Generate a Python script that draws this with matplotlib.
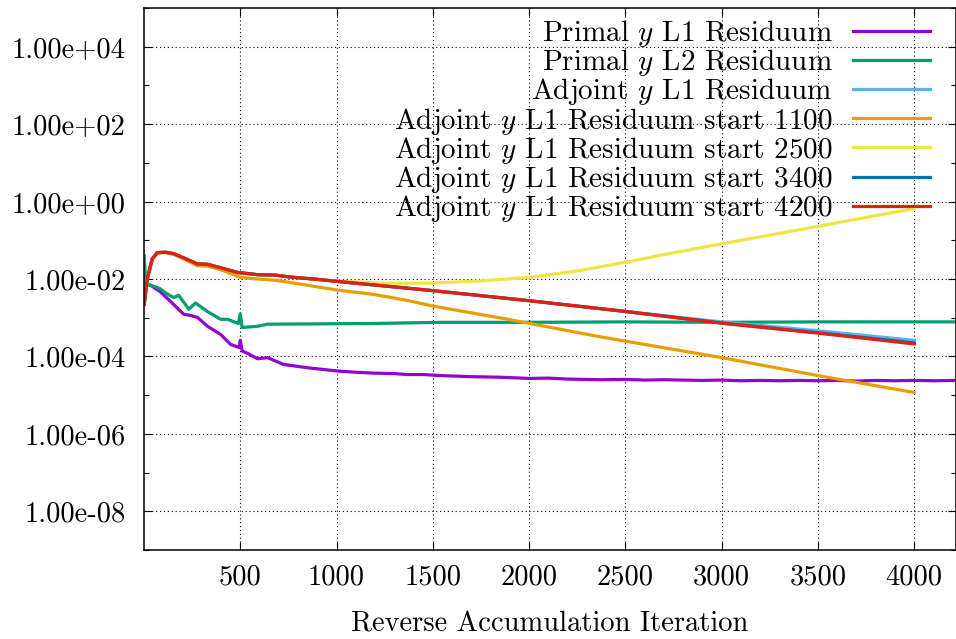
import numpy as np
import matplotlib.pyplot as plt
from matplotlib.ticker import FixedLocator, NullFormatter, NullLocator

plt.rcParams['font.family'] = 'cmr10'
plt.rcParams['mathtext.fontset'] = 'cm'
plt.rcParams['axes.unicode_minus'] = False
plt.rcParams['axes.formatter.use_mathtext'] = True

# primal y L1 residuum
primal_l1_x = [1, 40, 86, 120, 154, 206, 240, 278, 330, 398, 450, 495, 500, 510, 538, 590, 642,
               725, 849, 1005, 1100, 1192, 1300, 1369, 1450, 1540, 1620, 1700, 1850, 2000, 2100,
               2200, 2371, 2500, 2600, 2700, 2800, 2900, 3000, 3100, 3200, 3300, 3400, 3500,
               3600, 3700, 3800, 3900, 4000, 4100, 4219]
primal_l1_y = [8.3e-3, 6.6e-3, 4.6e-3, 3.2e-3, 2.2e-3, 1.23e-3, 1.15e-3, 1.02e-3, 6.0e-4, 3.7e-4,
               2.04e-4, 1.7e-4, 2.6e-4, 1.38e-4, 1.2e-4, 8.7e-5, 9.3e-5, 6.2e-5, 5.1e-5, 4.2e-5,
               3.9e-5, 3.7e-5, 3.6e-5, 3.4e-5, 3.4e-5, 3.2e-5, 3.1e-5, 3.0e-5, 2.9e-5, 2.7e-5,
               2.75e-5, 2.6e-5, 2.5e-5, 2.55e-5, 2.45e-5, 2.5e-5, 2.45e-5, 2.4e-5, 2.45e-5,
               2.35e-5, 2.4e-5, 2.35e-5, 2.4e-5, 2.35e-5, 2.4e-5, 2.3e-5, 2.4e-5, 2.35e-5,
               2.4e-5, 2.35e-5, 2.4e-5]

# primal y L2 residuum
primal_l2_x = [1, 10, 34, 60, 86, 121, 155, 180, 233, 268, 329, 398, 434, 490, 500, 510, 590,
               642, 849, 1200, 1540, 2000, 2500, 3000, 3500, 4000, 4219]
primal_l2_y = [4.0e-2, 7.4e-3, 6.8e-3, 6.3e-3, 5.5e-3, 4.1e-3, 3.3e-3, 3.8e-3, 1.66e-3, 2.4e-3,
               1.45e-3, 9.1e-4, 9.1e-4, 7.1e-4, 1.26e-3, 5.6e-4, 6.0e-4, 6.8e-4, 6.9e-4, 7.1e-4,
               7.6e-4, 7.6e-4, 7.8e-4, 7.6e-4, 7.8e-4, 7.8e-4, 7.8e-4]

# adjoint runs share the same early history
adj_x_early = [1, 17, 43, 69, 112, 155, 207, 277, 330, 398, 485, 590, 680, 761, 900, 1000]
adj_y_early = [2.2e-3, 1.0e-2, 3.3e-2, 4.8e-2, 4.9e-2, 4.5e-2, 3.5e-2, 2.45e-2, 2.4e-2, 1.95e-2,
               1.48e-2, 1.29e-2, 1.26e-2, 1.12e-2, 9.8e-3, 8.7e-3]

adjoint_x = adj_x_early + [1500, 2000, 2500, 3000, 3500, 4000]
adjoint_y = adj_y_early + [5.0e-3, 2.75e-3, 1.45e-3, 7.8e-4, 4.6e-4, 2.6e-4]

start1100_x = [1, 17, 43, 69, 112, 155, 207, 277, 330, 398, 502, 590, 680, 761, 1000, 1192,
               1367, 1500, 1869, 2371, 3000, 3500, 4000]
start1100_y = [2.2e-3, 1.0e-2, 3.3e-2, 4.7e-2, 4.8e-2, 4.3e-2, 3.3e-2, 2.2e-2, 2.15e-2, 1.74e-2,
               1.1e-2, 1.0e-2, 9.3e-3, 8.1e-3, 5.2e-3, 4.0e-3, 2.8e-3, 2.0e-3, 9.5e-4, 3.2e-4,
               9.3e-5, 3.2e-5, 1.17e-5]

start2500_x = adj_x_early[:-1] + [1000, 1228, 1488, 1748, 2002, 2267, 2500, 2682, 3000, 3500, 4000]
start2500_y = adj_y_early[:-1] + [8.9e-3, 7.8e-3, 7.8e-3, 8.9e-3, 1.1e-2, 1.66e-2, 2.7e-2,
                                  4.1e-2, 8.1e-2, 0.229, 0.661]

start3400_x = adj_x_early + [1500, 2000, 2500, 3000, 3500, 4000]
start3400_y = adj_y_early + [5.0e-3, 2.75e-3, 1.45e-3, 7.3e-4, 4.1e-4, 2.24e-4]

start4200_x = adj_x_early + [1500, 2000, 2500, 3000, 3500, 4000]
start4200_y = adj_y_early + [5.0e-3, 2.75e-3, 1.45e-3, 7.2e-4, 4.0e-4, 2.1e-4]

series = [
    (primal_l1_x, primal_l1_y, '#9400d3', r'Primal $y$ L1 Residuum'),
    (primal_l2_x, primal_l2_y, '#009e73', r'Primal $y$ L2 Residuum'),
    (adjoint_x, adjoint_y, '#56b4e9', r'Adjoint $y$ L1 Residuum'),
    (start1100_x, start1100_y, '#e69f00', r'Adjoint $y$ L1 Residuum start 1100'),
    (start2500_x, start2500_y, '#f0e442', r'Adjoint $y$ L1 Residuum start 2500'),
    (start3400_x, start3400_y, '#0072b2', r'Adjoint $y$ L1 Residuum start 3400'),
    (start4200_x, start4200_y, '#e51e10', r'Adjoint $y$ L1 Residuum start 4200'),
]

y_major = [1e-8, 1e-6, 1e-4, 1e-2, 1e0, 1e2, 1e4]
y_minor = [1e-9, 1e-7, 1e-5, 1e-3, 1e-1, 1e1, 1e3, 1e5]
x_major = [500, 1000, 1500, 2000, 2500, 3000, 3500, 4000]

fig = plt.figure(figsize=(9.56, 6.39), dpi=100)
ax = fig.add_axes([0.1506, 0.1393, 0.8494, 0.8482])

for xs, ys, color, label in series:
    ax.plot(xs, ys, color=color, lw=2.3, label=label)

ax.set_yscale('log')
ax.set_xlim(0, 4217)
ax.set_ylim(1e-9, 1e5)

ax.set_yticks(y_major, [f'{v:.2e}' for v in y_major])
ax.yaxis.set_minor_locator(FixedLocator(y_minor))
ax.yaxis.set_minor_formatter(NullFormatter())
ax.set_xticks(x_major, [str(v) for v in x_major])
ax.xaxis.set_minor_locator(NullLocator())

ax.tick_params(which='both', direction='in', top=True, right=True, labelsize=20.5, width=0.8)
ax.tick_params(which='major', length=6)
ax.tick_params(which='minor', length=3.5)
ax.tick_params(axis='y', pad=13)
ax.tick_params(axis='x', pad=10)
for s in ax.spines.values():
    s.set_linewidth(1.1)

ax.grid(True, which='major', color='black', linestyle=(0, (1, 2.5)), linewidth=0.8)

ax.set_xlabel('Reverse Accumulation Iteration', fontsize=20.5, labelpad=15)

ax.legend(loc='upper right', bbox_to_anchor=(0.968, 0.981), frameon=False, markerfirst=False,
          fontsize=21, handlelength=2.64, handletextpad=0.68, labelspacing=-0.065,
          borderpad=0, borderaxespad=0)

fig.savefig('out.png', dpi=100)
